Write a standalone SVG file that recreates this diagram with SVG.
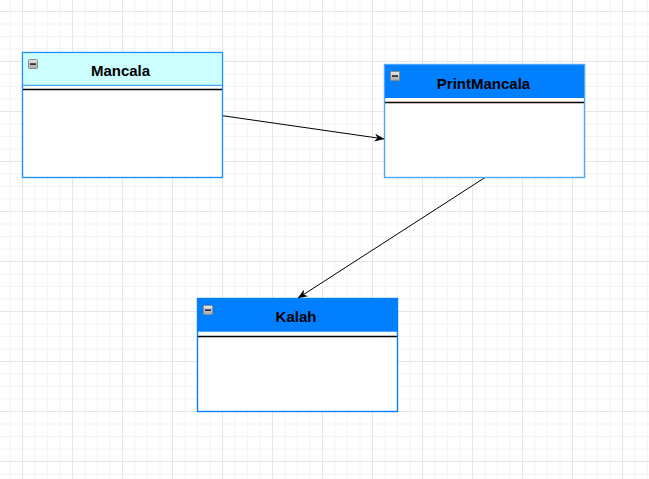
<svg xmlns="http://www.w3.org/2000/svg" width="649" height="479" viewBox="0 0 649 479">
<style>
.hdr-text{font-family:"Liberation Sans",Arial,sans-serif;font-weight:bold;font-size:15px;fill:#000;text-anchor:middle}
.body{fill:#fff}
.sep{stroke:#000;stroke-width:1.3}
.edge{stroke:#000;stroke-width:1;fill:none}
</style>
<defs>
<pattern id="grid" x="22" y="11" width="50" height="50" patternUnits="userSpaceOnUse">
<rect width="50" height="50" fill="#fff"/>
<path d="M13,0V50M25.5,0V50M38,0V50M0,13H50M0,25.5H50M0,38H50" stroke="#f4f4f4" stroke-width="1"/>
<path d="M0.5,0V50M0,0.5H50" stroke="#e6e6e6" stroke-width="1"/>
</pattern>
<linearGradient id="ig" x1="0" y1="0" x2="0" y2="1">
<stop offset="0" stop-color="#e8e8e8"/>
<stop offset="1" stop-color="#a8a8a8"/>
</linearGradient>
<g id="icon">
<rect x="0.5" y="0.5" width="9" height="9" rx="1" fill="url(#ig)" stroke="#8a8a8a" stroke-width="1"/>
<rect x="2" y="4.3" width="6" height="1.6" fill="#222"/>
</g>
<marker id="arr" viewBox="0 0 10 8" refX="10" refY="4" markerWidth="10" markerHeight="8" markerUnits="userSpaceOnUse" orient="auto">
<path d="M0,0 L10,4 L0,8 L3,4 Z" fill="#000"/>
</marker>
</defs>
<rect width="649" height="479" fill="url(#grid)"/>

<g id="connectors">
<path class="edge" d="M222.5,115.7 L384.5,139" marker-end="url(#arr)"/>
<path class="edge" d="M485,177.5 L297.7,298.3" marker-end="url(#arr)"/>
</g>

<g id="Mancala">
<rect x="22.5" y="52.5" width="200" height="125" class="body" stroke="#1e90ff" stroke-width="1.2"/>
<rect x="23" y="53" width="199" height="32.3" fill="#ccffff"/>
<line x1="22.5" y1="85.3" x2="222.5" y2="85.3" stroke="#1e90ff" stroke-width="1"/>
<line class="sep" x1="22.5" y1="89.5" x2="222.5" y2="89.5"/>
<rect x="22.5" y="52.5" width="200" height="125" fill="none" stroke="#1e90ff" stroke-width="1.2"/>
<use href="#icon" x="28" y="59"/>
<text class="hdr-text" x="120.5" y="76">Mancala</text>
</g>

<g id="PrintMancala">
<rect x="384.5" y="64.5" width="200" height="113" class="body" stroke="#4da6ff" stroke-width="1.2"/>
<rect x="384.5" y="64.5" width="200" height="33.5" fill="#007fff"/>
<line class="sep" x1="384.5" y1="102.5" x2="584.5" y2="102.5"/>
<rect x="384.5" y="64.5" width="200" height="113" fill="none" stroke="#4da6ff" stroke-width="1.2"/>
<use href="#icon" x="390" y="71"/>
<text class="hdr-text" x="483.5" y="88.5">PrintMancala</text>
</g>

<g id="Kalah">
<rect x="197.5" y="298.5" width="200" height="113" class="body" stroke="#007fff" stroke-width="1.2"/>
<rect x="197.5" y="298.5" width="200" height="33.2" fill="#007fff"/>
<line class="sep" x1="197.5" y1="336.5" x2="397.5" y2="336.5"/>
<rect x="197.5" y="298.5" width="200" height="113" fill="none" stroke="#007fff" stroke-width="1.2"/>
<use href="#icon" x="203" y="305"/>
<text class="hdr-text" x="296" y="321.7">Kalah</text>
</g>
</svg>
